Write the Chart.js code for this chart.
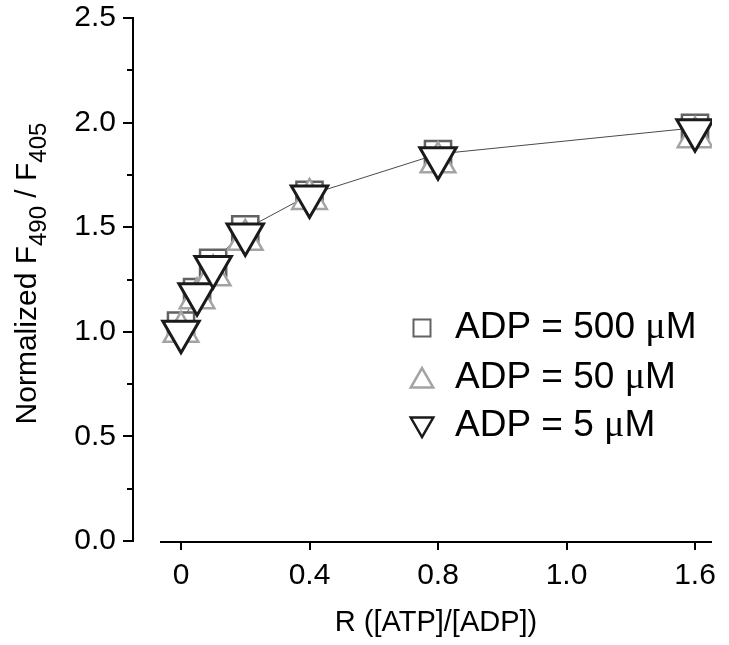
<!DOCTYPE html>
<html><head><meta charset="utf-8">
<script src="https://cdn.jsdelivr.net/npm/chart.js@4.4.0/dist/chart.umd.min.js"></script>
<style>html,body{margin:0;padding:0;background:#fff;}#wrap{width:729px;height:645px;position:relative;}</style>
</head><body><div id="wrap"><canvas id="c" width="729" height="645"></canvas></div>
<script>
// ---- data ----
const ratioR = [0, 0.05, 0.1, 0.2, 0.4, 0.8, 1.6];
const adp500 = [1.03, 1.19, 1.33, 1.49, 1.655, 1.85, 1.975];
const adp50  = [1.00, 1.16, 1.27, 1.44, 1.635, 1.81, 1.93];
const adp5   = [1.00, 1.18, 1.31, 1.465, 1.647, 1.83, 1.963];
const legendPrefix = ['ADP = 500 ', 'ADP = 50 ', 'ADP = 5 '];
const legendUnit = ['\u03BC', 'M'];
const xTickValues = [0, 0.4, 0.8, 1.2, 1.6];
const xTickLabels = ['0', '0.4', '0.8', '1.0', '1.6'];
const yTickValues = [0, 0.5, 1.0, 1.5, 2.0, 2.5];
const yTickLabels = ['0.0', '0.5', '1.0', '1.5', '2.0', '2.5'];
const yMinorValues = [0.25, 0.75, 1.25, 1.75, 2.25];
const xTitle = 'R ([ATP]/[ADP])';
const yTitleParts = [['Normalized F', false], ['490', true], [' / F', false], ['405', true]];

const SANS = '"Liberation Sans", Arial, Helvetica, sans-serif';
const SERIF = '"Liberation Serif", "Times New Roman", serif';
Chart.defaults.font.family = SANS;
Chart.defaults.color = '#000';

const pts = arr => ratioR.map((r, i) => ({x: r, y: arr[i]}));
const C500 = '#626262', C50 = '#a4a4a4', C5 = '#1a1a1a';

function triPath(ctx, x, y, r, down) {
  const s = down ? -1 : 1;
  ctx.beginPath();
  ctx.moveTo(x, y - s * r);
  ctx.lineTo(x + r * Math.sin(2 * Math.PI / 3), y + s * r / 2);
  ctx.lineTo(x - r * Math.sin(2 * Math.PI / 3), y + s * r / 2);
  ctx.closePath();
}

const axesPlugin = {
  id: 'axesPlugin',
  beforeDatasetsDraw(chart) {
    const ctx = chart.ctx, xs = chart.scales.x, ys = chart.scales.y, ca = chart.chartArea;
    ctx.save();
    ctx.strokeStyle = '#000';
    ctx.lineWidth = 2;
    ctx.lineCap = 'butt';
    const ax = ca.left - 27;
    ctx.beginPath();
    ctx.moveTo(ax, ys.getPixelForValue(yTickValues[yTickValues.length - 1]) - 1);
    ctx.lineTo(ax, ys.getPixelForValue(0) + 1);
    ctx.stroke();
    yTickValues.forEach(v => {
      const py = Math.round(ys.getPixelForValue(v));
      ctx.beginPath(); ctx.moveTo(ax, py); ctx.lineTo(ax - 10, py); ctx.stroke();
    });
    yMinorValues.forEach(v => {
      const py = Math.round(ys.getPixelForValue(v));
      ctx.beginPath(); ctx.moveTo(ax, py); ctx.lineTo(ax - 6, py); ctx.stroke();
    });
    const ay = ca.bottom + 1;
    ctx.beginPath(); ctx.moveTo(ca.left, ay); ctx.lineTo(ca.right, ay); ctx.stroke();
    xTickValues.forEach(v => {
      const px = Math.round(xs.getPixelForValue(v));
      ctx.beginPath(); ctx.moveTo(px, ay); ctx.lineTo(px, ay + 8); ctx.stroke();
    });
    ctx.restore();
  },
  afterDraw(chart) {
    const ctx = chart.ctx, ca = chart.chartArea;
    ctx.save();
    // y title
    const cy = (ca.top + ca.bottom) / 2 - 6;
    ctx.translate(36, cy);
    ctx.rotate(-Math.PI / 2);
    ctx.fillStyle = '#000';
    ctx.textBaseline = 'alphabetic';
    ctx.textAlign = 'left';
    const mainF = '30px ' + SANS, subF = '24px ' + SANS;
    let total = 0;
    yTitleParts.forEach(([t, sub]) => { ctx.font = sub ? subF : mainF; total += ctx.measureText(t).width; });
    let px = -total / 2;
    yTitleParts.forEach(([t, sub]) => {
      ctx.font = sub ? subF : mainF;
      ctx.fillText(t, px, sub ? 10 : 0);
      px += ctx.measureText(t).width;
    });
    ctx.restore();

    // legend
    ctx.save();
    const lx = ca.left + 262, tx = ca.left + 295;
    const rows = [ca.top + 310, ca.top + 360, ca.top + 408];
    ctx.strokeStyle = C500; ctx.lineWidth = 2;
    ctx.strokeRect(lx - 8.5, rows[0] - 8.5, 17, 17);
    ctx.strokeStyle = C50; ctx.lineWidth = 2.5;
    triPath(ctx, lx, rows[1] + 3, 13, false); ctx.stroke();
    ctx.strokeStyle = C5; ctx.lineWidth = 2.5;
    triPath(ctx, lx, rows[2] - 2, 13, true); ctx.stroke();
    ctx.fillStyle = '#000';
    ctx.textBaseline = 'middle';
    ctx.textAlign = 'left';
    rows.forEach((ry, i) => {
      let x = tx;
      ctx.font = '37px ' + SANS;
      ctx.fillText(legendPrefix[i], x, ry);
      x += ctx.measureText(legendPrefix[i]).width;
      ctx.font = '38px ' + SERIF;
      ctx.fillText(legendUnit[0], x, ry);
      x += ctx.measureText(legendUnit[0]).width;
      ctx.font = '37px ' + SANS;
      ctx.fillText(legendUnit[1], x, ry);
    });
    ctx.restore();
  }
};

const findIdx = (arr, v) => arr.findIndex(a => Math.abs(a - v) < 1e-9);

new Chart(document.getElementById('c'), {
  type: 'scatter',
  data: {
    datasets: [
      { label: 'ADP = 5 \u03BCM', data: pts(adp5), showLine: false, pointStyle: 'triangle', pointRotation: 180,
        pointRadius: 21, pointBorderWidth: 3, pointBorderColor: C5, pointBackgroundColor: '#fff', order: 1 },
      { label: 'ADP = 50 \u03BCM', data: pts(adp50), showLine: false, pointStyle: 'triangle',
        pointRadius: 20, pointBorderWidth: 2.5, pointBorderColor: C50, pointBackgroundColor: '#fff', order: 2 },
      { label: 'ADP = 500 \u03BCM', data: pts(adp500), showLine: true, borderColor: '#4a4a4a', borderWidth: 1,
        pointStyle: 'rect', pointRadius: 18.5, pointBorderWidth: 2.5, pointBorderColor: C500,
        pointBackgroundColor: '#fff', order: 3 }
    ]
  },
  options: {
    responsive: false,
    animation: false,
    events: [],
    layout: { autoPadding: false, padding: { top: 18, right: 17, left: 0, bottom: 0 } },
    plugins: { legend: { display: false }, tooltip: { enabled: false } },
    scales: {
      x: {
        type: 'linear', min: -0.0654, max: 1.6529,
        afterBuildTicks: s => { s.ticks = xTickValues.map(v => ({ value: v })); },
        afterFit: s => { s.height = 104; s.paddingLeft = 0; s.paddingRight = 0; s.paddingTop = 0; s.paddingBottom = 0; },
        grid: { display: false, drawTicks: false },
        border: { display: false },
        ticks: { autoSkip: false, maxRotation: 0, padding: 17, font: { size: 30 }, color: '#000',
          callback: v => xTickLabels[findIdx(xTickValues, v)] },
        title: { display: true, text: xTitle, font: { size: 29 }, color: '#000', padding: { top: 0, bottom: 5 } }
      },
      y: {
        type: 'linear', min: 0, max: 2.5,
        afterBuildTicks: s => { s.ticks = yTickValues.map(v => ({ value: v })); },
        afterFit: s => { s.width = 160; s.paddingTop = 0; s.paddingBottom = 0; s.paddingLeft = 0; s.paddingRight = 0; },
        grid: { display: false, drawTicks: false },
        border: { display: false },
        ticks: { autoSkip: false, padding: 44, font: { size: 30 }, color: '#000',
          callback: v => yTickLabels[findIdx(yTickValues, v)] }
      }
    }
  },
  plugins: [axesPlugin]
});
</script>
</body></html>
